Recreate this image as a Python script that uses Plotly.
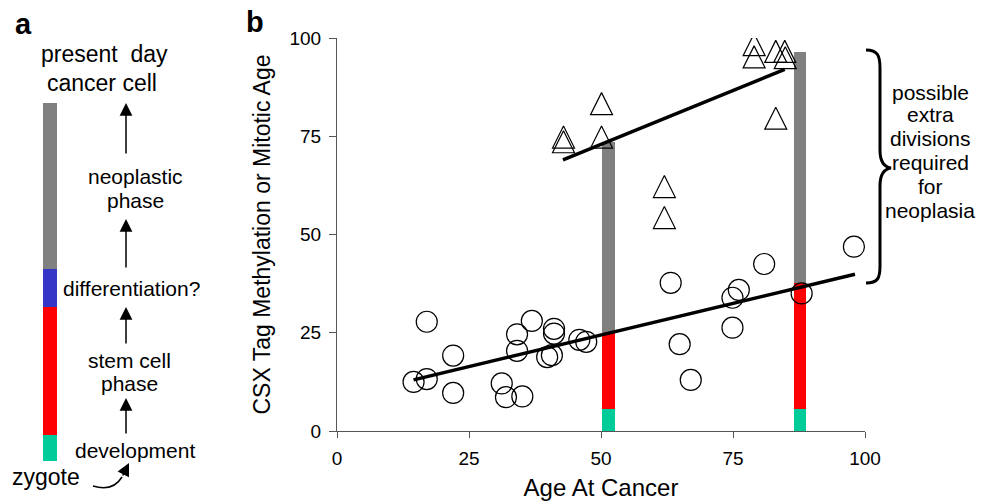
import plotly.graph_objects as go
import numpy as np

# The page body adds an 8px margin, so the figure is sized to the remaining window area.
OFF = 8
W, H = 987 - OFF, 501 - OFF
FONT = "Liberation Sans, Arial, Helvetica, sans-serif"

# ---------------- panel b data ----------------
circle_age = [14.5, 17.0, 17.0, 22.0, 22.0, 31.2, 32.0, 35.1, 34.1, 34.1, 36.9, 39.8, 40.7,
              41.1, 41.1, 45.9, 47.2, 63.2, 64.9, 67.0, 74.9, 74.9, 76.1, 80.9, 88.0, 97.9]
circle_val = [12.5, 13.2, 27.8, 19.2, 9.7, 12.1, 8.6, 8.8, 20.4, 24.6, 28.0, 18.8, 19.3,
              26.0, 24.8, 23.2, 22.7, 37.7, 22.1, 13.0, 26.3, 33.9, 35.9, 42.5, 35.0, 46.9]
tri_age = [42.9, 42.9, 50.1, 50.1, 62.0, 62.0, 83.1, 79.0, 79.0, 83.1, 84.8, 84.9]
tri_val = [74.8, 73.6, 74.8, 83.3, 62.2, 54.3, 79.6, 98.3, 95.2, 96.6, 96.6, 95.0]
upper_fit_age = [42.8, 84.8]
upper_fit_val = [69.0, 92.0]
lower_fit_age = [14.5, 98.1]
lower_fit_val = [13.0, 39.9]
bar_age = [51.4, 87.7]
bar_dev_top = [5.5, 5.5]
bar_stem_top = [24.9, 37.7]
bar_neo_top = [73.6, 96.4]
x_ticks = [0, 25, 50, 75, 100]
y_ticks = [0, 25, 50, 75, 100]

# ---------------- panel a data ----------------
a_stage_names = ["development", "stem cell phase", "differentiation?", "neoplastic phase"]
a_stage_len = [25.7, 127.7, 38.0, 166.0]
a_stage_colors = ["#00CC99", "#FF0000", "#3535C8", "#808080"]

GREEN, RED, GRAY = "#00CC99", "#FF0000", "#808080"

fig = go.Figure()

# panel b phase bars
b0 = [0.0, 0.0]
for base, top, col in [(b0, bar_dev_top, GREEN), (bar_dev_top, bar_stem_top, RED),
                       (bar_stem_top, bar_neo_top, GRAY)]:
    fig.add_trace(go.Bar(x=bar_age, y=[t - b for t, b in zip(top, base)], base=base,
                         width=2.4, marker=dict(color=col, line=dict(width=0)),
                         xaxis="x", yaxis="y", showlegend=False, hoverinfo="skip"))

# fit lines
for fx, fy in [(upper_fit_age, upper_fit_val), (lower_fit_age, lower_fit_val)]:
    fig.add_trace(go.Scatter(x=fx, y=fy, mode="lines", line=dict(color="black", width=3.5),
                             xaxis="x", yaxis="y", showlegend=False))

fig.add_trace(go.Scatter(x=circle_age, y=circle_val, mode="markers",
                         marker=dict(symbol="circle-open", size=21, color="black",
                                     line=dict(width=1.2, color="black")),
                         xaxis="x", yaxis="y", showlegend=False))
fig.add_trace(go.Scatter(x=tri_age, y=tri_val, mode="markers",
                         marker=dict(symbol="arrow-down-open", size=22, angle=180, standoff=11,
                                     color="black", line=dict(width=1.2, color="black")),
                         xaxis="x", yaxis="y", showlegend=False))

# panel a stacked bar
a_base = np.concatenate([[0], np.cumsum(a_stage_len)[:-1]])
for name, ln, b, col in zip(a_stage_names, a_stage_len, a_base, a_stage_colors):
    fig.add_trace(go.Bar(x=[50], y=[ln], base=[b], width=13.4, name=name,
                         marker=dict(color=col, line=dict(width=0)),
                         xaxis="x2", yaxis="y2", showlegend=False, hoverinfo="skip"))


def P(x):
    return (x - OFF) / W


def Q(y):
    return (501 - y) / H


def ann(text, x, y, size, bold=False):
    return dict(text=("<b>%s</b>" % text) if bold else text, x=P(x), y=Q(y),
                xref="paper", yref="paper", showarrow=False,
                font=dict(size=size, color="black", family=FONT),
                xanchor="center", yanchor="middle")


def arrow(x, y_tail, y_tip, x_tail=None):
    if x_tail is None:
        x_tail = x
    return dict(text="", x=P(x), y=Q(y_tip), xref="paper", yref="paper",
                ax=x_tail - x, ay=y_tail - y_tip, axref="pixel", ayref="pixel",
                showarrow=True, arrowhead=2, arrowsize=1.7, arrowwidth=1.5,
                arrowcolor="black")


annotations = [
    ann("a", 23, 24, 29, bold=True),
    ann("b", 255, 22, 29, bold=True),
    ann("present\u00a0 day", 104, 54, 23),
    ann("cancer cell", 102, 83, 23),
    ann("neoplastic", 135, 176, 21),
    ann("phase", 135, 200, 21),
    ann("differentiation?", 131, 288, 21),
    ann("stem cell", 129, 360, 21),
    ann("phase", 129.5, 383, 21),
    ann("development", 135.5, 450, 21),
    ann("zygote", 46, 477, 23),
    arrow(126, 155, 103),
    arrow(126, 269, 219),
    arrow(126, 345, 307),
    arrow(126, 435, 398),
    arrow(129, 477, 463, x_tail=122),
]
for txt, yy in zip(["possible", "extra", "divisions", "required", "for", "neoplasia"],
                   [92, 115, 138, 162, 186, 210]):
    annotations.append(ann(txt, 930, yy, 21))


def path(cmds):
    out = []
    for c in cmds:
        if isinstance(c, str):
            out.append(c)
        else:
            out.append("%.5f,%.5f" % (P(c[0]), Q(c[1])))
    return " ".join(out)


brace = path(["M", (866, 50), "C", (878, 50), (880, 56), (880, 68), "L", (880, 150),
              "C", (880, 162), (884, 167), (891, 168), "C", (884, 169), (880, 174), (880, 186),
              "L", (880, 266), "C", (880, 278), (878, 283), (866, 283)])
curve = path(["M", (93, 486), "Q", (113, 492), (122, 477)])

shapes = [
    dict(type="path", path=brace, xref="paper", yref="paper",
         line=dict(color="black", width=3)),
    dict(type="path", path=curve, xref="paper", yref="paper",
         line=dict(color="black", width=1.5)),
]

axis_common = dict(showgrid=False, zeroline=False, showline=True, linecolor="#555",
                   linewidth=1, ticks="outside", tickcolor="#555", tickwidth=1,
                   tickfont=dict(size=19, color="black", family=FONT))

fig.update_layout(
    width=W, height=H, margin=dict(l=0, r=0, t=0, b=0),
    paper_bgcolor="white", plot_bgcolor="white", template="none",
    barmode="overlay", bargap=0,
    font=dict(family=FONT, color="black"),
    xaxis=dict(domain=[P(337), P(865)], range=[0, 100], tickvals=x_ticks, ticklen=6,
               ticklabelstandoff=4, anchor="y",
               title=dict(text="Age At Cancer", font=dict(size=24, color="black", family=FONT),
                          standoff=15),
               **axis_common),
    yaxis=dict(domain=[Q(431), Q(38)], range=[0, 100], tickvals=y_ticks,
               ticklen=7, ticklabelstandoff=4, anchor="x",
               title=dict(text="CSX Tag Methylation or Mitotic Age",
                          font=dict(size=23, color="black", family=FONT), standoff=12),
               **axis_common),
    xaxis2=dict(domain=[0, P(240)], range=[OFF, 240], visible=False, anchor="y2"),
    yaxis2=dict(domain=[0, 1], range=[-40.3, 460.7 - OFF], visible=False, anchor="x2"),
    annotations=annotations,
    shapes=shapes,
)

fig.write_html("out.html")
